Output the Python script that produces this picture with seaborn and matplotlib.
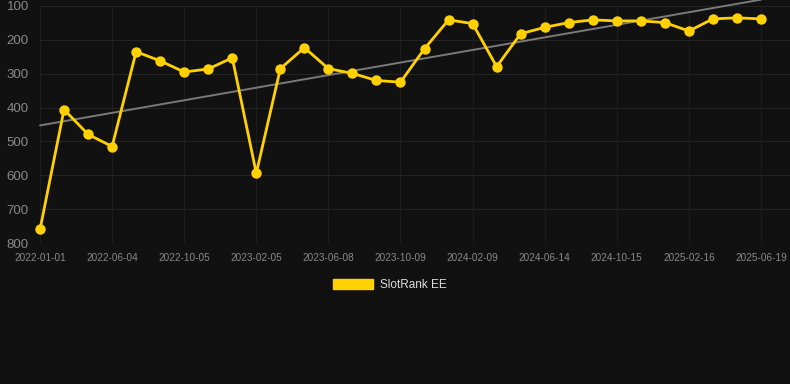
import numpy as np
import pandas as pd
import matplotlib
matplotlib.use("Agg")
import matplotlib.pyplot as plt
import matplotlib.patches as mpatches
import seaborn as sns

# --- data ---
dates = [
    "2022-01-01", "2022-02-21", "2022-04-13", "2022-06-04", "2022-07-15", "2022-08-25",
    "2022-10-05", "2022-11-15", "2022-12-26", "2023-02-05", "2023-03-18", "2023-04-28",
    "2023-06-08", "2023-07-19", "2023-08-29", "2023-10-09", "2023-11-19", "2023-12-30",
    "2024-02-09", "2024-03-21", "2024-05-03", "2024-06-14", "2024-07-25", "2024-09-04",
    "2024-10-15", "2024-11-25", "2025-01-06", "2025-02-16", "2025-03-29", "2025-05-09",
    "2025-06-19",
]
ranks = [760, 406, 479, 515, 235, 262, 295, 286, 253, 594, 285, 223, 285, 299, 320,
         325, 226, 141, 152, 279, 182, 163, 149, 141, 144, 144, 149, 174, 138, 135, 138]
y_ticks = [100, 200, 300, 400, 500, 600, 700, 800]
series_name = "SlotRank EE"

df = pd.DataFrame({"idx": np.arange(len(dates)), "date": dates, "rank": ranks})

BG = "#111111"
YELLOW = "#FFD100"

sns.set_style("dark")
plt.rcParams["font.family"] = ["Liberation Sans", "DejaVu Sans"]

fig = plt.figure(figsize=(7.9, 3.84), dpi=100, facecolor=BG)
ax = fig.add_axes([40 / 790, 1 - 243 / 384, 750 / 790, 237 / 384], facecolor=BG)

# trend line (least squares over the series)
sns.regplot(data=df, x="idx", y="rank", ax=ax, scatter=False, ci=None, truncate=True,
            line_kws={"color": "#7a7a7a", "lw": 1.4, "clip_on": False, "zorder": 2})

sns.lineplot(data=df, x="idx", y="rank", ax=ax, color=YELLOW, lw=2.0, marker="o",
             markersize=7.5, markeredgewidth=0, zorder=3, clip_on=False)

n = len(dates)
ax.set_xlim(0, (n - 1) + 29 / 24.03)
ax.set_ylim(800, 100)
ax.set_yticks(y_ticks)
ax.set_yticklabels([str(v) for v in y_ticks])
tick_pos = list(range(0, n, 3))
ax.set_xticks(tick_pos)
ax.set_xticklabels([dates[i] for i in tick_pos])

ax.yaxis.grid(True, color="#232323", lw=0.8)
ax.xaxis.grid(True, color="#1d1d1d", lw=0.8)
ax.tick_params(axis="y", colors="#8a8a8a", labelsize=9.5, length=0, pad=8)
ax.tick_params(axis="x", colors="#8a8a8a", labelsize=7.2, length=0, pad=7)
ax.set_xlabel("")
ax.set_ylabel("")
for s in ax.spines.values():
    s.set_visible(False)

handle = mpatches.Patch(color=YELLOW, label=series_name)
leg = fig.legend(handles=[handle], loc="center", bbox_to_anchor=(390 / 790, 1 - 285 / 384),
                 frameon=False, fontsize=8.5, handlelength=3.4, handleheight=0.9,
                 handletextpad=0.6)
for t in leg.get_texts():
    t.set_color("#dddddd")

fig.savefig("out.png", dpi=100, facecolor=BG)
